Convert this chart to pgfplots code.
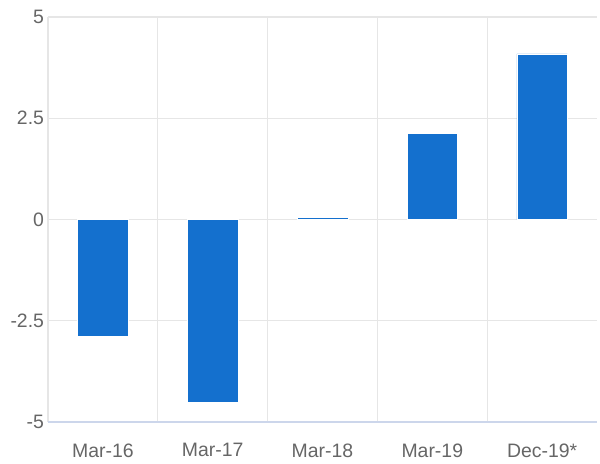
\documentclass[border=0pt]{standalone}
\usepackage{pgfplots}
\pgfplotsset{compat=1.18}
\usepackage{fontspec}
\setmainfont{Liberation Sans}
\definecolor{barblue}{RGB}{20,112,206}
\definecolor{gridgray}{RGB}{230,230,230}
\definecolor{axisblue}{RGB}{204,214,235}
\definecolor{labelgray}{RGB}{102,102,102}
\begin{document}
\begin{tikzpicture}[x=1bp,y=1bp]
\begin{axis}[
  scale only axis,
  width=549bp, height=405bp,
  xmin=-0.5, xmax=4.5,
  ymin=-5, ymax=5,
  axis line style={draw=none},
  xtick={0,1,2,3,4},
  xticklabels={Mar-16,Mar-17,Mar-18,Mar-19,Dec-19*},
  minor xtick={-0.5,0.5,1.5,2.5,3.5},
  xminorgrids=true,
  ytick={-5,-2.5,0,2.5,5},
  yticklabels={-5,-2.5,0,2.5,5},
  ymajorgrids=true,
  grid style={draw=gridgray, line width=1.3bp},
  minor grid style={draw=gridgray, line width=1.3bp},
  major tick length=0pt, minor tick length=0pt,
  tick label style={font=\fontsize{19.5}{22}\selectfont, text=labelgray},
  xticklabel style={yshift=-18bp},
  yticklabel style={xshift=-0.5bp},
  clip=false,
]
\addplot[ybar, bar width=0.46, fill=barblue, draw=white, line width=0.4bp] coordinates {
  (0,-2.88) (1,-4.51) (2,0.06) (3,2.13) (4,4.09)
};
\draw[axisblue, line width=1.2bp] (rel axis cs:0,0) -- (rel axis cs:1,0);
\end{axis}
\path[use as bounding box] ([shift={(-48bp,-41bp)}]current axis.south west) rectangle ([shift={(3bp,17bp)}]current axis.north east);
\end{tikzpicture}
\end{document}
